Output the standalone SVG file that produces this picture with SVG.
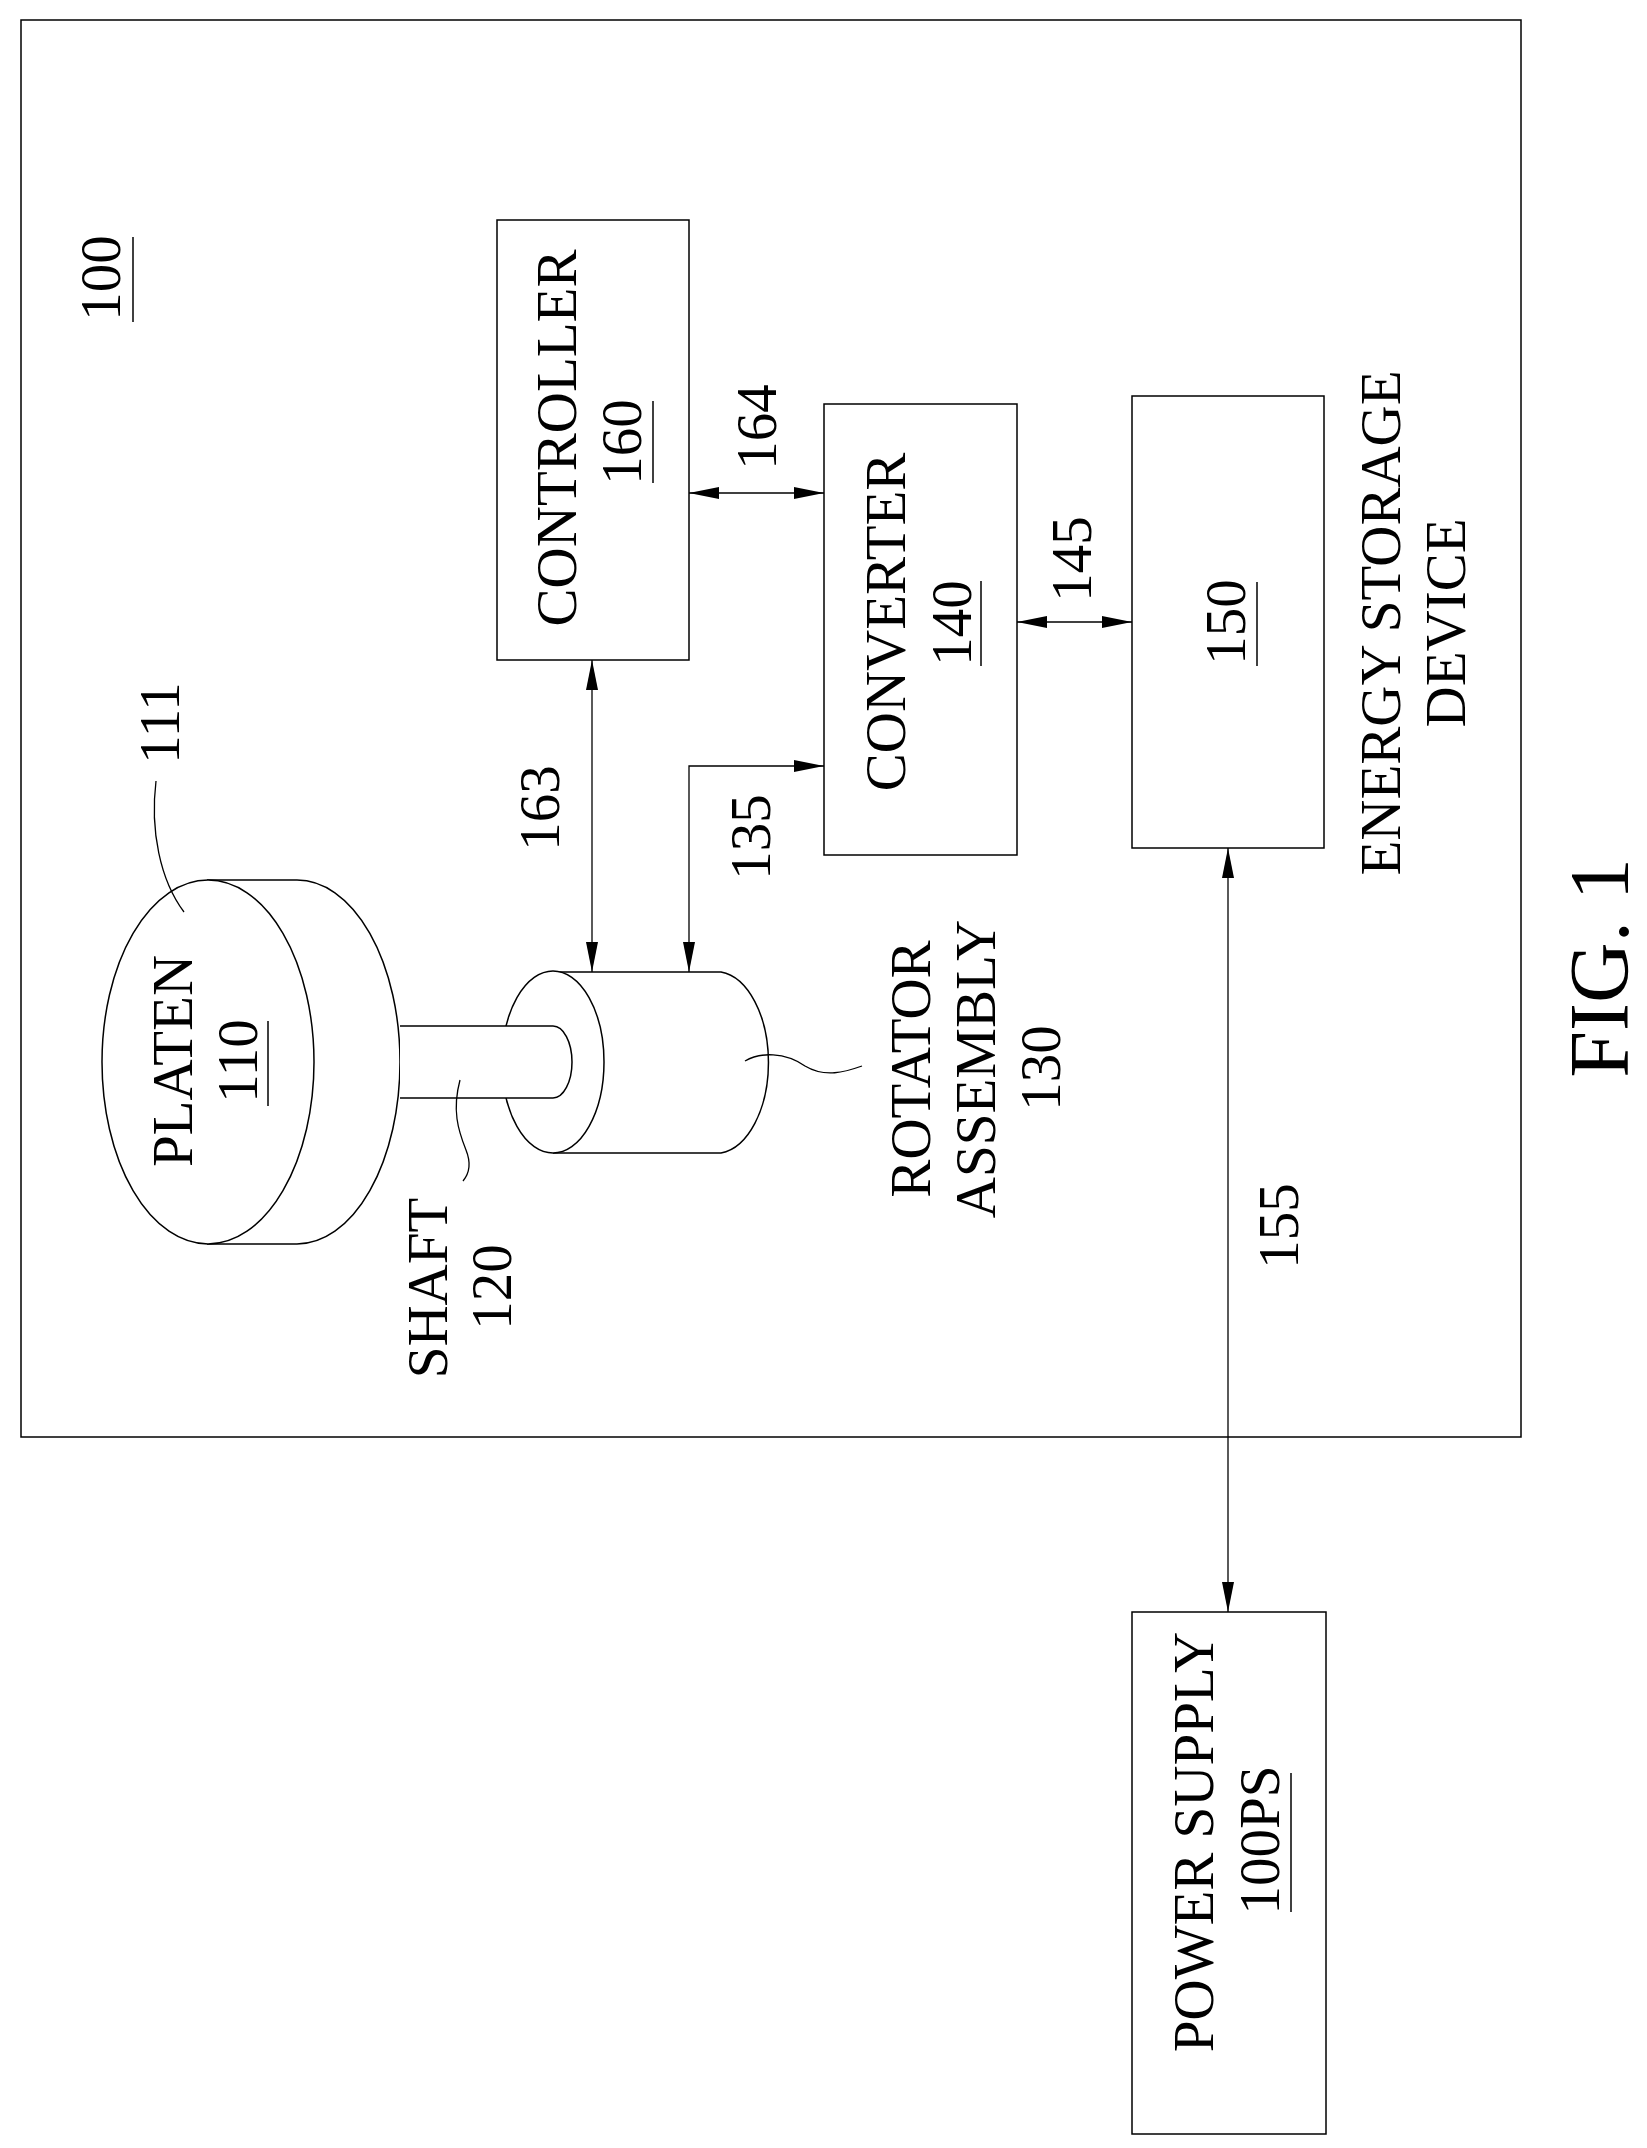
<svg xmlns="http://www.w3.org/2000/svg" width="1647" height="2148" viewBox="0 0 1647 2148">
<style>
.s{fill:none;stroke:#000;stroke-width:1.5}
.w{fill:#fff;stroke:#000;stroke-width:1.5}
.c{fill:none;stroke:#000;stroke-width:1.3}
.t{font-family:"Liberation Serif","Times New Roman",serif;font-size:57px;fill:#000;text-anchor:middle}
.f{font-size:84px}
</style>
<defs>
<marker id="a" viewBox="0 0 30 12" refX="30" refY="6" markerWidth="30" markerHeight="12" markerUnits="userSpaceOnUse" orient="auto-start-reverse">
<path d="M0,0 L30,6 L0,12 Z" fill="#000"/>
</marker>
</defs>
<rect width="1647" height="2148" fill="#fff"/>
<g id="frame100">
<rect x="21" y="20" width="1500" height="1417" class="s"/>
<text class="t" transform="translate(120,278) rotate(-90)">100</text>
<line x1="133" y1="237" x2="133" y2="322" class="s"/>
</g>
<g id="platen">
<path d="M207,880 L297,880 A103,182 0 0 1 297,1244 L207,1244" class="s"/>
<ellipse cx="208" cy="1062" rx="106" ry="182" class="w"/>
<text class="t" transform="translate(192,1061) rotate(-90)">PLATEN</text>
<text class="t" transform="translate(257,1061) rotate(-90)">110</text>
<line x1="268" y1="1021" x2="268" y2="1106" class="s"/>
<path d="M156,781 C150,830 160,880 184,912" class="c"/>
<text class="t" transform="translate(179,723) rotate(-90)">111</text>
</g>
<g id="rotator">
<path d="M553,972 L721,972 A53,91 0 0 1 721,1153 L553,1153" class="s"/>
<ellipse cx="553" cy="1062" rx="51" ry="91" class="w"/>
<path d="M745,1061 C760,1052 785,1052 805,1066 C825,1078 845,1072 862,1066" class="c"/>
<text class="t" transform="translate(930,1069) rotate(-90)">ROTATOR</text>
<text class="t" transform="translate(995,1069) rotate(-90)">ASSEMBLY</text>
<text class="t" transform="translate(1060,1068) rotate(-90)">130</text>
</g>
<g id="shaft">
<path d="M400,1026 L553,1026 A19,36 0 0 1 553,1098 L400,1098" class="w"/>
<path d="M460,1080 C452,1110 458,1130 466,1150 C472,1165 468,1175 463,1181" class="c"/>
<text class="t" transform="translate(447,1288) rotate(-90)">SHAFT</text>
<text class="t" transform="translate(511,1287) rotate(-90)">120</text>
</g>
<g id="controller">
<rect x="497" y="220" width="192" height="440" class="s"/>
<text class="t" transform="translate(576,438) rotate(-90)">CONTROLLER</text>
<text class="t" transform="translate(641,442) rotate(-90)">160</text>
<line x1="653" y1="401" x2="653" y2="483" class="s"/>
</g>
<g id="converter">
<rect x="824" y="404" width="193" height="451" class="s"/>
<text class="t" transform="translate(905,622) rotate(-90)">CONVERTER</text>
<text class="t" transform="translate(971,623) rotate(-90)">140</text>
<line x1="981" y1="581" x2="981" y2="666" class="s"/>
</g>
<g id="storage">
<rect x="1132" y="396" width="192" height="452" class="s"/>
<text class="t" transform="translate(1245,622) rotate(-90)">150</text>
<line x1="1257" y1="582" x2="1257" y2="666" class="s"/>
<text class="t" transform="translate(1400,623) rotate(-90)">ENERGY STORAGE</text>
<text class="t" transform="translate(1465,623) rotate(-90)">DEVICE</text>
</g>
<g id="power">
<rect x="1132" y="1612" width="194" height="522" class="s"/>
<text class="t" transform="translate(1213,1842) rotate(-90)">POWER SUPPLY</text>
<text class="t" transform="translate(1279,1840) rotate(-90)">100PS</text>
<line x1="1291" y1="1773" x2="1291" y2="1912" class="s"/>
</g>
<g id="connectors">
<line x1="592" y1="660" x2="592" y2="972" class="c" marker-start="url(#a)" marker-end="url(#a)"/>
<polyline points="689,972 689,766 824,766" class="c" marker-start="url(#a)" marker-end="url(#a)"/>
<line x1="689" y1="493" x2="824" y2="493" class="c" marker-start="url(#a)" marker-end="url(#a)"/>
<line x1="1017" y1="622" x2="1132" y2="622" class="c" marker-start="url(#a)" marker-end="url(#a)"/>
<line x1="1228" y1="848" x2="1228" y2="1612" class="c" marker-start="url(#a)" marker-end="url(#a)"/>
<text class="t" transform="translate(559,808) rotate(-90)">163</text>
<text class="t" transform="translate(770,837) rotate(-90)">135</text>
<text class="t" transform="translate(776,427) rotate(-90)">164</text>
<text class="t" transform="translate(1091,559) rotate(-90)">145</text>
<text class="t" transform="translate(1298,1226) rotate(-90)">155</text>
</g>
<text class="t f" transform="translate(1628,968) rotate(-90)">FIG. 1</text>
</svg>
